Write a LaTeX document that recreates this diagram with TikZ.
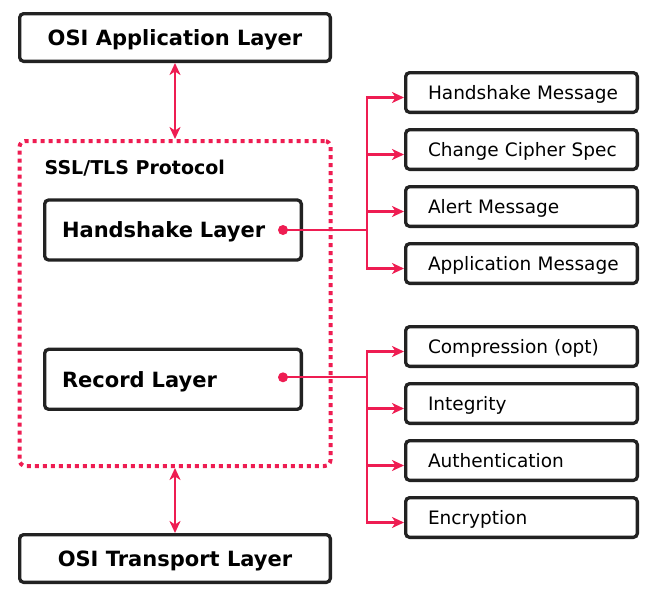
\documentclass[tikz,border=0pt]{standalone}
\usepackage{fontspec}
\setmainfont{DejaVu Sans}
\usepackage{xcolor}
\usetikzlibrary{arrows.meta,positioning}
\definecolor{tlsred}{HTML}{EE1D52}
\definecolor{boxline}{HTML}{222222}

\begin{document}
\begin{tikzpicture}[
        x=1pt, y=-1pt,
        layer/.style={rectangle, draw=boxline, line width=3.3pt, rounded corners=4pt, fill=white, minimum width=310.7pt, minimum height=47.7pt, text depth=0pt, font=\fontsize{21}{25}\selectfont\bfseries},
        sublayer/.style={layer, minimum width=256.7pt, minimum height=60pt, text width=222pt, align=left},
        message/.style={rectangle, draw=boxline, line width=3.3pt, rounded corners=4pt, minimum width=231.7pt, minimum height=39.7pt, text width=205pt, align=left, text depth=0pt, font=\fontsize{18.5}{22}\selectfont, execute at begin node=\hspace*{9pt}},
        protocol/.style={rectangle, draw=tlsred, line width=4pt, dash pattern=on 4pt off 4pt, rounded corners=6pt, minimum width=311pt, minimum height=325pt, outer sep=2pt},
        dot/.style={circle, fill=tlsred, minimum size=10pt, inner sep=0pt},
        link/.style={color=tlsred, line width=2.2pt, -{Stealth[length=12pt, width=11pt, inset=3.5pt]}},
        duplex/.style={link, {Stealth[length=12pt, width=11pt, inset=3.5pt]}-{Stealth[length=12pt, width=11pt, inset=3.5pt]}}
    ]
    \useasboundingbox (0,0) rectangle (657,600);

    % OSI layers and the protocol frame
    \node[layer] (app) at (175,37.5) {OSI Application Layer};
    \node[protocol, below=76pt of app] (ssl) {};
    \node[layer, below=65pt of ssl] (transport) {OSI Transport Layer};

    % Inside the frame
    \node[anchor=west, inner sep=0pt, font=\fontsize{19}{23}\selectfont\bfseries] (ssltitle) at ([xshift=27pt, yshift=-29pt]ssl.north west) {SSL/TLS Protocol};
    \node[sublayer] (handshake) at (173,230) {Handshake Layer};
    \node[sublayer, below=86pt of handshake] (record) {Record Layer};

    % Handshake messages
    \node[message] (hsmsg) at (521.5,92.5) {Handshake Message};
    \node[message, below=14pt of hsmsg] (cipher) {Change Cipher Spec};
    \node[message, below=14pt of cipher] (alert) {Alert Message};
    \node[message, below=14pt of alert] (appmsg) {Application Message};

    % Record operations
    \node[message, below=40pt of appmsg] (compress) {Compression (opt)};
    \node[message, below=14pt of compress] (integrity) {Integrity};
    \node[message, below=14pt of integrity] (auth) {Authentication};
    \node[message, below=14pt of auth] (encrypt) {Encryption};

    % Arrows - layers
    \draw[duplex] (app) -- (ssl);
    \draw[duplex] (ssl) -- (transport);

    % Arrows - fan out
    \node[dot] (hsdot) at ([xshift=-20pt]handshake.east) {};
    \node[dot] (recdot) at ([xshift=-20pt, yshift=2pt]record.east) {};
    \coordinate (hsfork) at ([xshift=84pt]hsdot.center);
    \coordinate (recfork) at ([xshift=84pt]recdot.center);

    \draw[link, -] (hsdot.center) -- (hsfork);
    \foreach \msg in {hsmsg, cipher, alert, appmsg}
        \draw[link] (hsfork) |- ([yshift=-5pt]\msg.west);

    \draw[link, -] (recdot.center) -- (recfork);
    \foreach \op in {compress, integrity, auth, encrypt}
        \draw[link] (recfork) |- ([yshift=-5pt]\op.west);

\end{tikzpicture}
\end{document}
